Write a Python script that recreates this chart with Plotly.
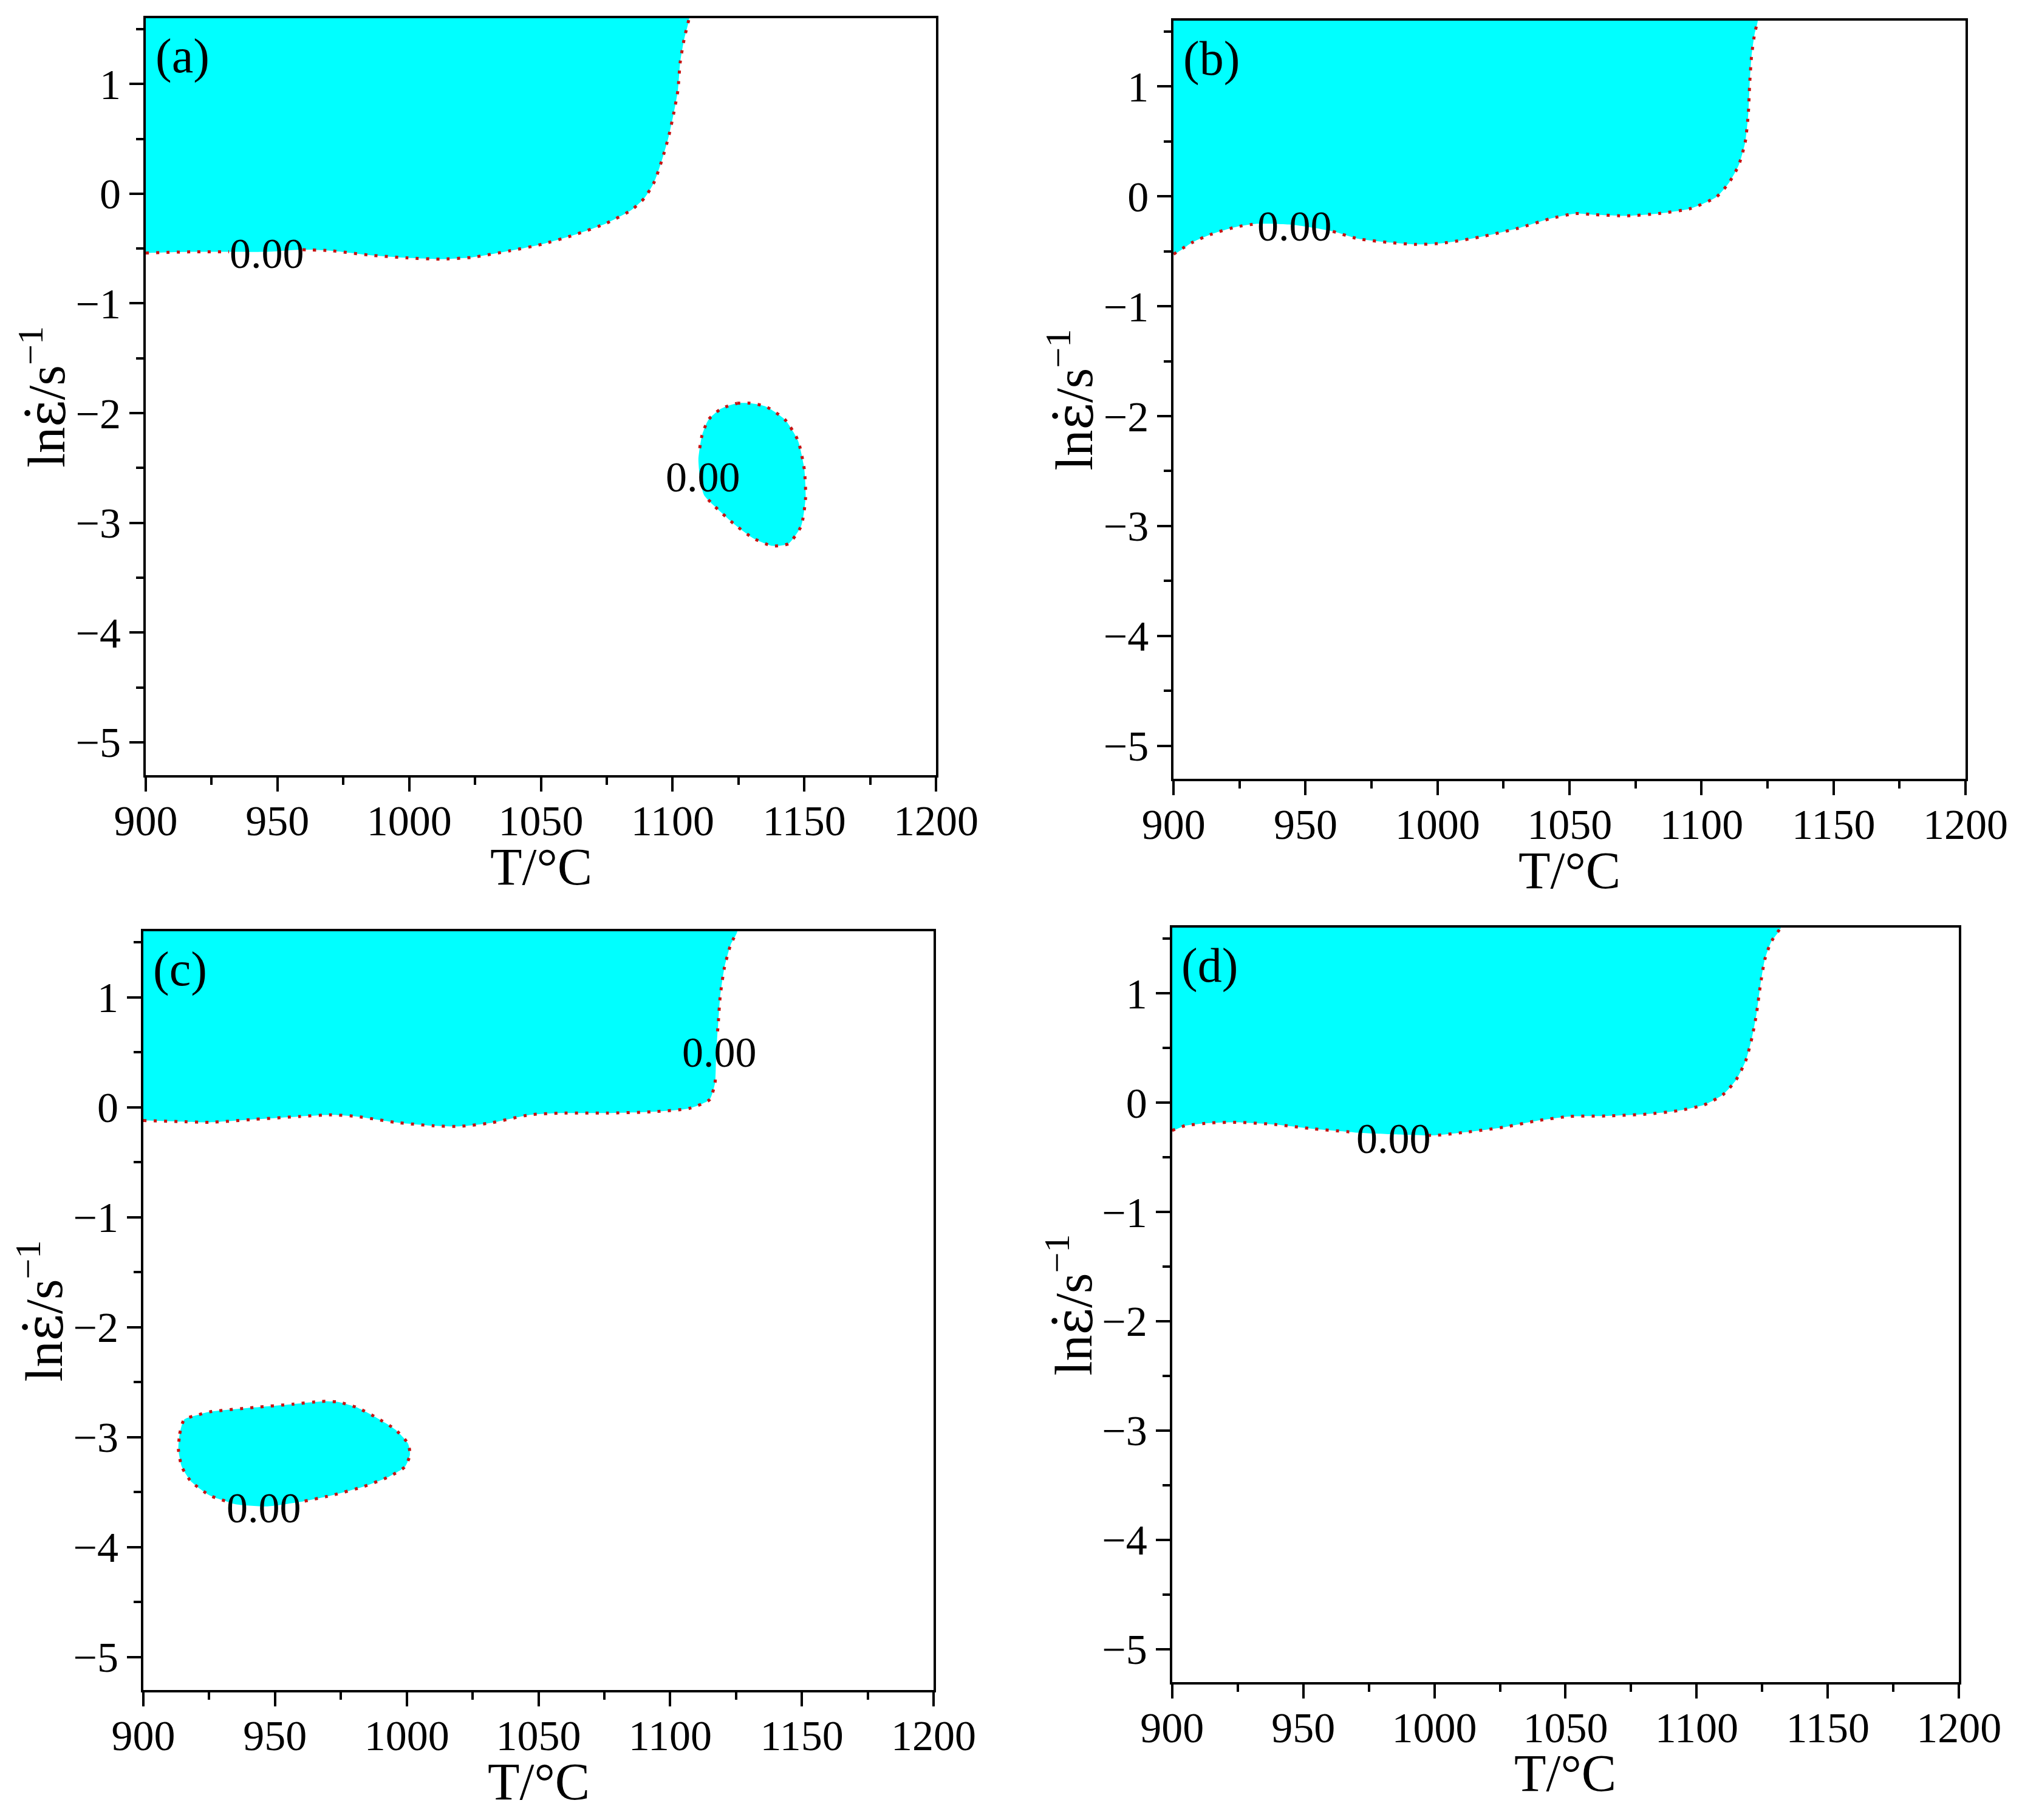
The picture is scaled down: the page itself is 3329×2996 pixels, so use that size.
import plotly.graph_objects as go

# ---------------- data ----------------
X_RANGE = [900, 1200]
Y_RANGE = [-5.3, 1.6]
X_TICKS = [900, 950, 1000, 1050, 1100, 1150, 1200]
Y_TICKS = [-5, -4, -3, -2, -1, 0, 1]
PANEL_NAMES = ["(a)", "(b)", "(c)", "(d)"]
CONTOUR_LEVEL = "0.00"
X_TITLE = "T/°C"
Y_TITLE = 'ln<span style="font-family:\'DejaVu Serif\'">ε̇</span>/s<sup>−1</sup>'

# (a) upper unstable region boundary (from left edge to top edge)
a_top_T = [900, 917, 931.6, 945.6, 959.5, 970.4, 985, 999.5, 1011.7, 1023.8, 1038.3, 1050.5,
           1062.6, 1074.8, 1084.5, 1089.3, 1093, 1096, 1098.5, 1100.4, 1102, 1102.9, 1104.4, 1106.3]
a_top_y = [-0.54, -0.53, -0.53, -0.53, -0.51, -0.52, -0.56, -0.585, -0.596, -0.58, -0.52, -0.46,
           -0.376, -0.27, -0.146, -0.04, 0.105, 0.31, 0.52, 0.73, 0.94, 1.2, 1.41, 1.6]
# (a) closed island
a_isl_T = [1124.5, 1129.4, 1135.4, 1142.7, 1147.6, 1150, 1150.5, 1148.8, 1144, 1137.9, 1130.6,
           1123.3, 1116, 1112, 1110.4, 1109.8, 1110.3, 1111.2, 1113.6, 1118.4, 1124.5]
a_isl_y = [-1.91, -1.91, -1.94, -2.06, -2.25, -2.51, -2.77, -3.03, -3.19, -3.21, -3.14,
           -3.01, -2.85, -2.75, -2.6, -2.42, -2.32, -2.2, -2.06, -1.96, -1.91]

# (b)
b_top_T = [900, 907, 914.3, 924, 931.2, 945.5, 960.3, 970, 982, 991.8, 1001.5, 1016, 1030.5,
           1042.6, 1052.3, 1059.6, 1071.7, 1083.8, 1095.9, 1105.6, 1110.4, 1114, 1116.5,
           1117.7, 1118.2, 1118.9, 1120.1, 1121.3]
b_top_y = [-0.526, -0.42, -0.344, -0.276, -0.25, -0.26, -0.318, -0.386, -0.42, -0.437, -0.427,
           -0.37, -0.29, -0.203, -0.156, -0.167, -0.177, -0.156, -0.11, -0.005, 0.125, 0.28,
           0.49, 0.755, 1.015, 1.27, 1.48, 1.6]

# (c)
c_top_T = [900, 913.1, 925.2, 942.2, 959.2, 971.4, 981, 995.6, 1010.2, 1019.9, 1032, 1046.6,
           1058.7, 1075.7, 1092.7, 1107.3, 1115, 1117, 1117.2, 1117.5, 1118, 1118.2, 1119,
           1120.6, 1123, 1125.5]
c_top_y = [-0.121, -0.13, -0.137, -0.11, -0.084, -0.069, -0.084, -0.137, -0.169, -0.174, -0.142,
           -0.069, -0.053, -0.053, -0.042, -0.01, 0.07, 0.216, 0.27, 0.48, 0.69, 0.744, 1.01,
           1.27, 1.48, 1.6]
c_isl_T = [913.8, 915.5, 920.4, 925.2, 942.2, 956.8, 967.7, 973.8, 981, 988.3, 995.6, 1000.5,
           1001.2, 999.3, 993.2, 983.5, 971.4, 960.5, 959.2, 947.1, 935, 931, 925.2, 918,
           914.6, 913.3, 913.8]
c_isl_y = [-2.97, -2.84, -2.80, -2.77, -2.73, -2.70, -2.675, -2.68, -2.73, -2.82, -2.93, -3.06,
           -3.16, -3.27, -3.36, -3.45, -3.53, -3.585, -3.59, -3.63, -3.61, -3.58, -3.53, -3.40,
           -3.27, -3.11, -2.97]

# (d)
d_top_T = [900, 904.9, 914.7, 924.4, 939.1, 953.8, 968.4, 970, 984, 997.5, 1000.2, 1012.4,
           1027, 1039.3, 1051.5, 1066.1, 1080.8, 1093, 1102.8, 1110.1, 1115, 1118.7, 1121.1,
           1122.8, 1124.3, 1126, 1128.4, 1132.1]
d_top_y = [-0.255, -0.212, -0.186, -0.18, -0.2, -0.24, -0.27, -0.275, -0.29, -0.30, -0.30, -0.27,
           -0.223, -0.165, -0.127, -0.122, -0.106, -0.074, -0.021, 0.074, 0.207, 0.382, 0.595,
           0.81, 1.074, 1.31, 1.47, 1.6]

# contour label positions (T, lnε̇) per panel
label_T = [[945.6, 1111.2], [945.5], [1118.2, 945.4], [984]]
label_y = [[-0.55, -2.59], [-0.28], [0.49, -3.65], [-0.335]]

# ---------------- styling ----------------
CYAN = "#00FFFF"
LINE_COLOR = "#C81414"
FONT = "Liberation Serif, Times New Roman, serif"
TICK_SIZE = 70
TITLE_SIZE = 86
LABEL_SIZE = 70
PANEL_SIZE = 80

# domains (paper fractions) of the four panels
DOMAINS = [
    ([0.0721, 0.4629], [0.5741, 0.9900]),
    ([0.5804, 0.9721], [0.5721, 0.9887]),
    ([0.0709, 0.4617], [0.0714, 0.4883]),
    ([0.5797, 0.9688], [0.0758, 0.4903]),
]

# label gaps in the contour line: (T0, T1, y0, y1)
GAPS = [
    [(931.7, 959.4, -1.0, 0.0), (1090, 1120, -2.74, -2.33)],
    [(931.3, 960.2, -1.0, 0.0)],
    [(1100, 1135, 0.28, 0.68), (931.1, 960.4, -4.5, -3.3)],
    [(970.1, 997.4, -1.0, 0.0)],
]

regions = [
    [("top", a_top_T, a_top_y), ("island", a_isl_T, a_isl_y)],
    [("top", b_top_T, b_top_y)],
    [("top", c_top_T, c_top_y), ("island", c_isl_T, c_isl_y)],
    [("top", d_top_T, d_top_y)],
]


def gapped(T, y, gaps):
    gx, gy = [], []
    for t, v in zip(T, y):
        inside = any(g[0] < t < g[1] and g[2] < v < g[3] for g in gaps)
        gx.append(None if inside else t)
        gy.append(None if inside else v)
    return gx, gy


fig = go.Figure()

for i, panel in enumerate(regions):
    xa = "x" if i == 0 else f"x{i+1}"
    ya = "y" if i == 0 else f"y{i+1}"
    for kind, T, y in panel:
        if kind == "top":
            # close polygon through the top-left corner, beyond the visible range
            fx = list(T) + [T[-1], X_RANGE[0] - 20, X_RANGE[0] - 20, T[0]]
            fy = list(y) + [Y_RANGE[1] + 1, Y_RANGE[1] + 1, y[0], y[0]]
        else:
            fx, fy = list(T), list(y)
        fig.add_trace(go.Scatter(x=fx, y=fy, xaxis=xa, yaxis=ya, mode="lines",
                                 fill="toself", fillcolor=CYAN,
                                 line=dict(width=0, color=CYAN, shape="spline", smoothing=0.6),
                                 hoverinfo="skip", showlegend=False))
        lx, ly = gapped(T, y, GAPS[i])
        fig.add_trace(go.Scatter(x=lx, y=ly, xaxis=xa, yaxis=ya, mode="lines",
                                 line=dict(width=5, color=LINE_COLOR, dash="5px,12px",
                                           shape="spline", smoothing=0.6),
                                 connectgaps=False, hoverinfo="skip", showlegend=False))

annotations = []
for i in range(4):
    sfx = "" if i == 0 else str(i + 1)
    for t, v in zip(label_T[i], label_y[i]):
        annotations.append(dict(x=t, y=v, xref="x" + sfx, yref="y" + sfx, text=CONTOUR_LEVEL,
                                showarrow=False, font=dict(family=FONT, size=LABEL_SIZE, color="black"),
                                xanchor="center", yanchor="middle", xshift=2, yshift=1))
    annotations.append(dict(x=0.0105, y=0.950, xref=f"x{sfx} domain", yref=f"y{sfx} domain",
                            text=PANEL_NAMES[i], showarrow=False,
                            font=dict(family=FONT, size=PANEL_SIZE, color="black"),
                            xanchor="left", yanchor="middle"))
    annotations.append(dict(x=0.5, y=-0.121, xref=f"x{sfx} domain", yref=f"y{sfx} domain",
                            text=X_TITLE, showarrow=False,
                            font=dict(family=FONT, size=TITLE_SIZE, color="black"),
                            xanchor="center", yanchor="middle"))
    annotations.append(dict(x=-0.130, y=0.5, xref=f"x{sfx} domain", yref=f"y{sfx} domain",
                            text=Y_TITLE, showarrow=False, textangle=-90,
                            font=dict(family=FONT, size=TITLE_SIZE, color="black"),
                            xanchor="center", yanchor="middle"))

layout = dict(width=3329, height=2996, margin=dict(l=0, r=0, t=0, b=0),
              paper_bgcolor="white", plot_bgcolor="white",
              font=dict(family=FONT, color="black", size=TICK_SIZE),
              annotations=annotations, showlegend=False)

for i, (dx, dy) in enumerate(DOMAINS):
    sfx = "" if i == 0 else str(i + 1)
    common = dict(showline=True, linecolor="black", linewidth=4, mirror=True,
                  ticks="outside", ticklen=23, tickwidth=4, tickcolor="black",
                  tickfont=dict(family=FONT, size=TICK_SIZE, color="black"),
                  showgrid=False, zeroline=False, automargin=False)
    layout["xaxis" + sfx] = dict(common, domain=dx, range=X_RANGE, tickvals=X_TICKS,
                                 anchor="y" + sfx, ticklabelstandoff=-12,
                                 minor=dict(ticks="outside", ticklen=12, tickwidth=4,
                                            tickcolor="black", dtick=25, tick0=900, showgrid=False))
    layout["yaxis" + sfx] = dict(common, domain=dy, range=Y_RANGE, tickvals=Y_TICKS,
                                 anchor="x" + sfx,
                                 minor=dict(ticks="outside", ticklen=12, tickwidth=4,
                                            tickcolor="black", dtick=0.5, tick0=0, showgrid=False))

fig.update_layout(**layout)
fig.write_html("out.html", config={"displayModeBar": False},
               post_script="document.body.style.margin='0';document.body.style.overflow='hidden';")
